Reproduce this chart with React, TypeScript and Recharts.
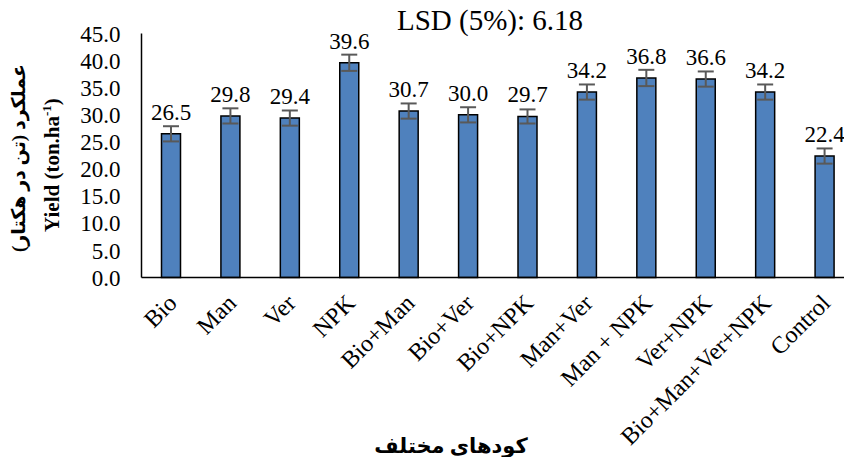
import { BarChart, Bar, XAxis, YAxis, ErrorBar, LabelList } from 'recharts'

const categories = [
  'Bio', 'Man', 'Ver', 'NPK', 'Bio+Man', 'Bio+Ver', 'Bio+NPK',
  'Man+Ver', 'Man + NPK', 'Ver+NPK', 'Bio+Man+Ver+NPK', 'Control',
]
const yields = [26.5, 29.8, 29.4, 39.6, 30.7, 30.0, 29.7, 34.2, 36.8, 36.6, 34.2, 22.4]
const errors = [1.4, 1.4, 1.4, 1.5, 1.4, 1.4, 1.3, 1.4, 1.5, 1.4, 1.4, 1.4]
const yTicks = [0, 5, 10, 15, 20, 25, 30, 35, 40, 45]

const data = categories.map((name, i) => ({ name, value: yields[i], err: errors[i] }))

const FONT = 'Liberation Serif, DejaVu Sans, serif'

const XTick = (props: any) => {
  const { x, y, payload } = props
  return (
    <g transform={`translate(${x - 5},${y + 7}) rotate(-45)`}>
      <text x={0} y={0} dy={17} textAnchor="end" fontFamily={FONT} fontSize={24} fill="#000">
        {payload.value}
      </text>
    </g>
  )
}

const YLabel = () => (
  <g>
    <text
      transform="translate(25,158) rotate(-90)"
      textAnchor="middle"
      fontFamily={FONT}
      fontSize={19}
      fontWeight="bold"
      fill="#000"
      direction="rtl"
    >
      عملکرد (تن در هکتار)
    </text>
    <text
      transform="translate(59,165) rotate(-90)"
      textAnchor="middle"
      fontFamily={FONT}
      fontSize={21}
      fontWeight="bold"
      fill="#000"
    >
      <tspan>Yield (ton.ha</tspan>
      <tspan fontSize={13} dy={-8}>-1</tspan>
      <tspan dy={8}>)</tspan>
    </text>
  </g>
)

export default function App() {
  return (
    <div style={{ position: 'absolute', left: 0, top: 0, width: 844, height: 457, overflow: 'hidden', background: '#fff' }}>
      <div style={{ position: 'absolute', left: 397, top: 4, whiteSpace: 'nowrap', fontFamily: FONT, fontSize: 29, lineHeight: '32px', color: '#000' }}>
        LSD (5%): 6.18
      </div>
      <BarChart
        width={870}
        height={457}
        data={data}
        margin={{ top: 33.5, right: 15.5, bottom: 0, left: 0 }}
        barSize={19}
      >
        <XAxis
          dataKey="name"
          interval={0}
          tickLine={false}
          axisLine={{ stroke: '#000', strokeWidth: 1.5 }}
          height={179.5}
          tick={<XTick />}
          label={{
            value: 'کودهای مختلف',
            position: 'insideBottom',
            offset: 4,
            fontFamily: FONT,
            fontSize: 21,
            fontWeight: 'bold',
            fill: '#000',
            dx: -47,
          }}
        />
        <YAxis
          domain={[0, 45]}
          ticks={yTicks}
          interval={0}
          width={141.5}
          tickLine={false}
          axisLine={{ stroke: '#000', strokeWidth: 1.5 }}
          tickFormatter={(v: number) => v.toFixed(1)}
          tick={{ fontFamily: FONT, fontSize: 23, fill: '#000' }}
          tickMargin={15}
          label={{ content: <YLabel /> }}
        />
        <Bar dataKey="value" fill="#4F81BD" stroke="#000" strokeWidth={1.5} isAnimationActive={false}>
          <ErrorBar dataKey="err" width={8} stroke="#595959" strokeWidth={2} isAnimationActive={false} />
          <LabelList
            dataKey="value"
            position="top"
            offset={14}
            formatter={(v: any) => Number(v).toFixed(1)}
            style={{ fontFamily: FONT, fontSize: 23, fill: '#000' }}
          />
        </Bar>
      </BarChart>
    </div>
  )
}
